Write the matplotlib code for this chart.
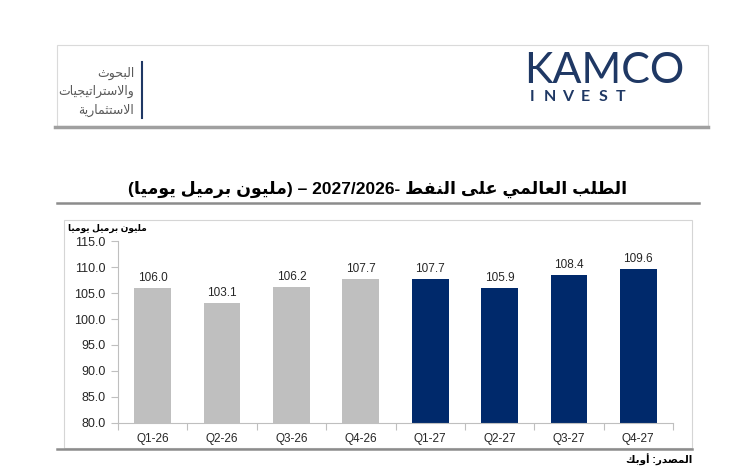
import matplotlib
matplotlib.use('Agg')
import matplotlib.pyplot as plt
from matplotlib.patches import Rectangle
from matplotlib.lines import Line2D

# ---------------- data ----------------
categories = ['Q1-26', 'Q2-26', 'Q3-26', 'Q4-26', 'Q1-27', 'Q2-27', 'Q3-27', 'Q4-27']
values = [106.0, 103.1, 106.2, 107.7, 107.7, 105.9, 108.4, 109.6]
years = ['2026', '2026', '2026', '2026', '2027', '2027', '2027', '2027']
yticks = [80.0, 85.0, 90.0, 95.0, 100.0, 105.0, 110.0, 115.0]

title_ar_main = 'الطلب العالمي على النفط'
title_years = '2027/2026'
title_ar_unit = 'مليون برميل يوميا'
header_lines = ['البحوث', 'والاستراتيجيات', 'الاستثمارية']
ylabel_text = 'مليون برميل يوميا'
source_text = 'المصدر: أوبك'

year_colors = {'2026': '#BFBFBF', '2027': '#00296B'}

# ---------------- minimal Arabic shaping (visual order) ----------------
DUAL = {'ب': 0xFE8F, 'ت': 0xFE95, 'ث': 0xFE99, 'ج': 0xFE9D, 'ح': 0xFEA1, 'خ': 0xFEA5,
        'س': 0xFEB1, 'ش': 0xFEB5, 'ص': 0xFEB9, 'ض': 0xFEBD, 'ط': 0xFEC1, 'ظ': 0xFEC5,
        'ع': 0xFEC9, 'غ': 0xFECD, 'ف': 0xFED1, 'ق': 0xFED5, 'ك': 0xFED9, 'ل': 0xFEDD,
        'م': 0xFEE1, 'ن': 0xFEE5, 'ه': 0xFEE9, 'ي': 0xFEF1}
RIGHT = {'ا': 0xFE8D, 'أ': 0xFE83, 'إ': 0xFE87, 'آ': 0xFE81, 'د': 0xFEA9, 'ذ': 0xFEAB,
         'ر': 0xFEAD, 'ز': 0xFEAF, 'و': 0xFEED, 'ة': 0xFE93, 'ى': 0xFEEF}
LAM_ALEF = {'ا': 0xFEFB, 'أ': 0xFEF7, 'إ': 0xFEF9, 'آ': 0xFEF5}


def shape(s):
    toks = []
    i = 0
    while i < len(s):
        c = s[i]
        if c == 'ل' and i + 1 < len(s) and s[i + 1] in LAM_ALEF:
            toks.append(('LA', s[i + 1]))
            i += 2
        else:
            toks.append((c, None))
            i += 1

    def is_ar(t):
        return t[0] == 'LA' or t[0] in DUAL or t[0] in RIGHT

    out = []
    for k, t in enumerate(toks):
        c = t[0]
        if not is_ar(t):
            out.append(c)
            continue
        prev_ok = k > 0 and toks[k - 1][0] in DUAL
        next_ok = (c in DUAL) and k + 1 < len(toks) and is_ar(toks[k + 1])
        if c == 'LA':
            b = LAM_ALEF[t[1]]
            out.append(chr(b + 1 if prev_ok else b))
        elif c in DUAL:
            b = DUAL[c]
            if prev_ok and next_ok:
                out.append(chr(b + 3))
            elif prev_ok:
                out.append(chr(b + 1))
            elif next_ok:
                out.append(chr(b + 2))
            else:
                out.append(chr(b))
        else:
            b = RIGHT[c]
            out.append(chr(b + 1 if prev_ok else b))
    return ''.join(reversed(out))


plt.rcParams['font.family'] = ['Liberation Sans', 'DejaVu Sans']

W, H = 750, 476
fig = plt.figure(figsize=(W / 100, H / 100), dpi=100)
fig.patch.set_facecolor('white')


def fx(x):
    return x / W


def fy(y):
    return 1 - y / H


NAVY = '#1F3864'

# ---------------- header ----------------
fig.add_artist(Rectangle((fx(57), fy(126)), (708 - 57) / W, (126 - 45) / H,
                         transform=fig.transFigure, fill=False, ec='#DADADA', lw=0.8))
fig.add_artist(Line2D([fx(55), fx(708)], [fy(127), fy(127)], transform=fig.transFigure,
                      color='#A0A0A0', lw=2.5))
fig.add_artist(Line2D([fx(142), fx(142)], [fy(62), fy(118)], transform=fig.transFigure,
                      color=NAVY, lw=1.5))
for line, yy in zip(header_lines, [73, 91, 110]):
    fig.text(fx(134), fy(yy), shape(line), ha='right', va='center', fontsize=9,
             color='#5A5A5A')

fig.text(fx(524), fy(83), 'KAMCO', ha='left', va='baseline', fontsize=31,
         color=NAVY, family=['Lato', 'DejaVu Sans'])
for k, ch in enumerate('INVEST'):
    fig.text(fx(532 + k * 17.8), fy(97), ch, ha='center', va='center', fontsize=11.5,
             weight='bold', color=NAVY, family=['Lato', 'DejaVu Sans'])

# ---------------- title ----------------
title_visual = '(' + shape(title_ar_unit) + ') \u2013 ' + title_years + '- ' + shape(title_ar_main)
fig.text(fx(378), fy(189), title_visual, ha='center', va='center', fontsize=12.5,
         weight='bold', color='black')
fig.add_artist(Line2D([fx(57), fx(699)], [fy(203), fy(203)], transform=fig.transFigure,
                      color='#8C8C8C', lw=1.8))

# ---------------- chart frame ----------------
fig.add_artist(Rectangle((fx(64), fy(448)), (692 - 64) / W, (448 - 220) / H,
                         transform=fig.transFigure, fill=False, ec='#D5D5D5', lw=0.8))
fig.add_artist(Line2D([fx(57), fx(692)], [fy(449), fy(449)], transform=fig.transFigure,
                      color='#8C8C8C', lw=1.8))
fig.text(fx(68), fy(228), shape(ylabel_text), ha='left', va='center', fontsize=6.5,
         weight='bold', color='black')
fig.text(fx(692), fy(460), shape(source_text), ha='right', va='center', fontsize=7.5,
         weight='bold', color='black')

# ---------------- bars ----------------
ax = fig.add_axes([fx(118), fy(423), (673 - 118) / W, (423 - 241) / H])
x = list(range(len(categories)))
colors = [year_colors[y] for y in years]
ax.bar(x, values, width=0.53, color=colors, zorder=2)
for xi, v in zip(x, values):
    ax.annotate(f'{v:.1f}', (xi, v), xytext=(0, 3), textcoords='offset points',
                ha='center', va='bottom', fontsize=8.5, color='#262626')

ax.set_xlim(-0.5, len(categories) - 0.5)
ax.set_ylim(yticks[0], yticks[-1])
ax.set_yticks(yticks)
ax.set_yticklabels([f'{t:.1f}' for t in yticks])
ax.set_xticks(x)
ax.set_xticklabels(categories)
ax.set_xticks([i - 0.5 for i in range(len(categories) + 1)], minor=True)
ax.tick_params(axis='x', which='major', length=0, pad=7, labelsize=8.5, labelcolor='#262626')
ax.tick_params(axis='x', which='minor', length=5, color='#BFBFBF', width=0.8)
ax.tick_params(axis='y', length=5, color='#BFBFBF', width=0.8, labelsize=9,
               labelcolor='#262626', pad=4)
for s in ['top', 'right']:
    ax.spines[s].set_visible(False)
for s in ['left', 'bottom']:
    ax.spines[s].set_color('#BFBFBF')
    ax.spines[s].set_linewidth(0.8)
ax.set_facecolor('none')

fig.savefig('out.png', dpi=100, facecolor='white')
